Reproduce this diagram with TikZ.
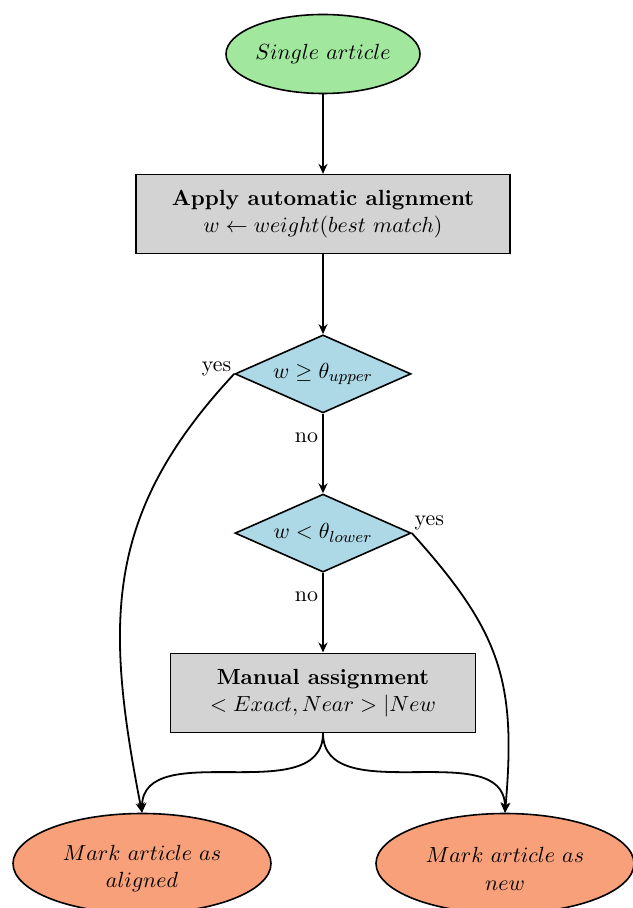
\documentclass[tikz,border=0pt,11pt]{standalone}
\usetikzlibrary{shapes.geometric,arrows.meta,positioning}

\definecolor{startgreen}{RGB}{161,232,158}
\definecolor{procgray}{RGB}{211,211,211}
\definecolor{decblue}{RGB}{173,216,230}
\definecolor{endorange}{RGB}{248,160,122}

\begin{document}
\begin{tikzpicture}[node distance=39.8pt,
  startnode/.style={ellipse, draw, thick, fill=startgreen, minimum width=97pt, minimum height=39.5pt, inner sep=0pt},
  process/.style={rectangle, draw, thick, fill=procgray, minimum height=39.5pt, inner xsep=18pt, align=center},
  decision/.style={diamond, draw, thick, fill=decblue, shape aspect=3, minimum width=88pt, minimum height=39pt, inner sep=0pt},
  endnode/.style={ellipse, draw, thick, fill=endorange, minimum width=129pt, minimum height=50pt, inner sep=0pt, align=center},
  arrow/.style={line width=0.9pt, -{Stealth[length=5pt,width=4.5pt]}}]
\useasboundingbox (-161.5pt,27pt) rectangle (154.5pt,-427pt);

\node[startnode] (start) at (0,0) {$Single\ article$};
\node[process, below=of start] (apply) {\textbf{Apply automatic alignment}\\ $w \leftarrow weight(best\ match)$};
\node[decision, below=of apply] (upper) {$w \geq \theta_{upper}$};
\node[decision, below=of upper] (lower) {$w < \theta_{lower}$};
\node[process, below=of lower, minimum width=152.5pt] (manual) {\textbf{Manual assignment}\\ $<Exact, Near>|New$};
\node[endnode, below=of manual, xshift=-90.5pt] (aligned) {\rule{0pt}{13pt}$Mark\ article\ as$\\ $aligned$};
\node[endnode, below=of manual, xshift=91pt] (new) {\rule{0pt}{13pt}$Mark\ article\ as$\\ $new$};

\draw[arrow] (start) -- (apply);
\draw[arrow] (apply) -- (upper);
\draw[arrow] (upper) -- node[pos=0.3, left, inner sep=2pt] {no} (lower);
\draw[arrow] (lower) -- node[pos=0.3, left, inner sep=2pt] {no} (manual);
\draw[arrow] (upper.west) to[out=-133, in=101, looseness=1.1] node[pos=0, left, inner sep=1pt, yshift=2.5pt] {yes} (aligned.north);
\draw[arrow] (lower.east) to[out=-48, in=85, looseness=1.15] node[pos=0, above right, inner sep=1pt] {yes} (new.north);
\draw[arrow] (manual.south) to[out=-90, in=90] (aligned.north);
\draw[arrow] (manual.south) to[out=-90, in=90] (new.north);
\end{tikzpicture}
\end{document}
